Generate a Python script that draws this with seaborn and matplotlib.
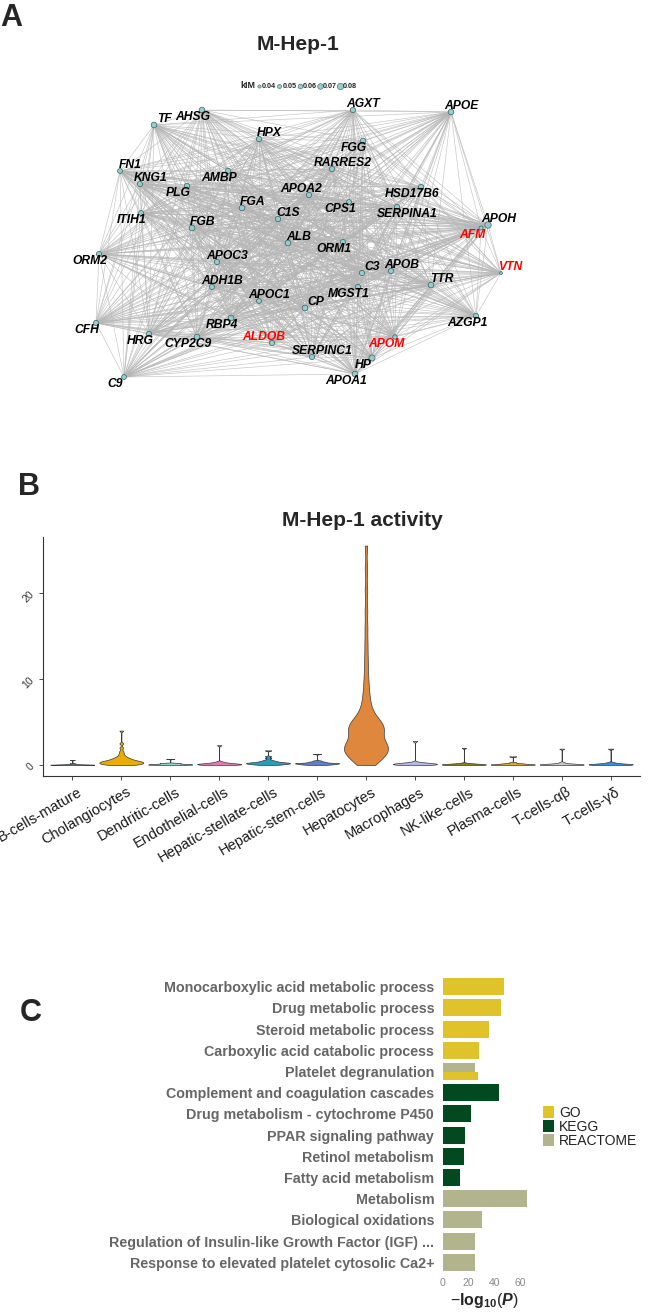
import numpy as np
import pandas as pd
import matplotlib
matplotlib.use("Agg")
import matplotlib.pyplot as plt
import matplotlib.transforms as mtransforms
from matplotlib.collections import LineCollection
from matplotlib.patches import Patch
import seaborn as sns

W, H = 651, 1314

# ---------------- panel A: module network ----------------
genes = ["TF", "AHSG", "AGXT", "APOE", "HPX", "FGG", "RARRES2", "FN1", "KNG1", "AMBP",
         "PLG", "APOA2", "HSD17B6", "ITIH1", "FGA", "FGB", "C1S", "CPS1", "SERPINA1", "APOH",
         "AFM", "ALB", "ORM1", "ORM2", "APOC3", "C3", "APOB", "VTN", "TTR", "ADH1B",
         "MGST1", "APOC1", "CP", "CFH", "RBP4", "AZGP1", "HRG", "CYP2C9", "ALDOB", "APOM",
         "SERPINC1", "HP", "APOA1", "C9"]
# layout coordinates (as exported from the network layout)
node_x = [154, 202, 353, 451, 259, 363, 332, 120, 140, 228,
          187, 309, 421, 141, 242, 192, 278, 349, 397, 488,
          481, 288, 343, 99, 217, 362, 391, 501, 431, 212,
          358, 259, 305, 96, 231, 476, 149, 197, 272, 395,
          312, 372, 355, 124]
node_y = [125, 110, 110, 112, 139, 141, 169, 171, 184, 171,
          186, 195, 187, 213, 208, 228, 219, 202, 207, 225,
          228, 243, 242, 254, 262, 273, 271, 273, 285, 287,
          287, 301, 308, 323, 318, 316, 334, 337, 343, 337,
          357, 358, 374, 377]
kim = [0.07, 0.07, 0.065, 0.07, 0.065, 0.07, 0.065, 0.06, 0.065, 0.065,
       0.065, 0.065, 0.065, 0.06, 0.07, 0.07, 0.065, 0.06, 0.065, 0.08,
       0.05, 0.07, 0.065, 0.065, 0.065, 0.065, 0.065, 0.036, 0.07, 0.065,
       0.065, 0.06, 0.07, 0.065, 0.07, 0.065, 0.065, 0.07, 0.065, 0.055,
       0.065, 0.075, 0.07, 0.06]
label_pos = ["ur", "dl", "ur", "ur", "ur", "dl", "ur", "ur", "ur", "dl",
             "dl", "ul", "dl", "dl", "ur", "ur", "ur", "dl", "dr", "ur",
             "dl", "ur", "dl", "dl", "ur", "ur", "ur", "ur", "ur", "ur",
             "dl", "ur", "ur", "dl", "dl", "dl", "dl", "dl", "ul", "dl",
             "ur", "dl", "dl", "dl"]
red_genes = ["AFM", "VTN", "ALDOB", "APOM"]
kim_breaks = [0.04, 0.05, 0.06, 0.07, 0.08]

# ---------------- panel B: module activity per cell type ----------------
cells = ["B-cells-mature", "Cholangiocytes", "Dendritic-cells", "Endothelial-cells",
         "Hepatic-stellate-cells", "Hepatic-stem-cells", "Hepatocytes", "Macrophages",
         "NK-like-cells", "Plasma-cells", "T-cells-αβ", "T-cells-γδ"]
cell_colors = ["#5f6a6a", "#e5ae00", "#8fd3cf", "#e07bb5", "#2a9cb8", "#5e7cd6",
               "#df873c", "#b3b9f0", "#8b7d14", "#d8a63a", "#c8c8c8", "#3c8cd8"]
act_bcell = [0.0, 0.0, 0.01, 0.01, 0.02, 0.02, 0.03, 0.03, 0.04, 0.04, 0.05, 0.05, 0.06,
             0.07, 0.08, 0.1, 0.12, 0.15, 0.2, 0.6]
act_chol = [0.0, 0.02, 0.05, 0.08, 0.1, 0.12, 0.15, 0.18, 0.2, 0.22, 0.25, 0.28, 0.3, 0.32,
            0.35, 0.38, 0.4, 0.42, 0.45, 0.48, 0.5, 0.55, 0.6, 0.65, 0.7, 0.75, 0.8, 0.9,
            1.0, 1.15, 1.35, 1.6, 2.0, 2.5, 4.0]
act_dc = [0.0, 0.02, 0.03, 0.04, 0.05, 0.06, 0.07, 0.08, 0.1, 0.1, 0.12, 0.13, 0.15, 0.18,
          0.2, 0.22, 0.25, 0.7]
act_endo = [0.0, 0.02, 0.03, 0.05, 0.06, 0.08, 0.1, 0.1, 0.12, 0.14, 0.15, 0.18, 0.2, 0.25,
            0.3, 0.4, 2.3]
act_stell = [0.0, 0.05, 0.08, 0.1, 0.12, 0.15, 0.18, 0.2, 0.2, 0.22, 0.25, 0.28, 0.3, 0.3,
             0.35, 0.4, 0.45, 0.5, 0.6, 0.8, 1.0, 1.7]
act_stem = [0.0, 0.05, 0.08, 0.1, 0.12, 0.15, 0.18, 0.2, 0.2, 0.22, 0.25, 0.3, 0.35, 0.4,
            0.5, 1.3]
act_hep = [0.0, 0.1, 0.3, 0.5, 0.7, 0.9, 1.0, 1.1, 1.3, 1.4, 1.5, 1.6, 1.7, 1.8, 1.9, 2.0,
           2.0, 2.1, 2.2, 2.3, 2.4, 2.5, 2.6, 2.8, 3.0, 3.2, 3.5, 3.7, 3.9, 4.0, 4.1, 4.2,
           4.3, 4.4, 4.5, 4.6, 4.7, 4.8, 5.0, 5.2, 5.4, 5.7, 6.0, 6.4, 6.9, 7.5, 8.2, 9.0,
           10.0, 11.2, 12.6, 14.2, 16.0, 18.0, 20.3, 22.8, 25.5]
act_mac = [0.0, 0.02, 0.04, 0.05, 0.08, 0.1, 0.12, 0.14, 0.15, 0.18, 0.2, 0.25, 0.3, 2.8]
act_nk = [0.0, 0.01, 0.02, 0.03, 0.04, 0.05, 0.06, 0.07, 0.08, 0.1, 0.12, 0.15, 0.2, 2.0]
act_plasma = [0.0, 0.02, 0.03, 0.04, 0.05, 0.07, 0.08, 0.1, 0.12, 0.15, 0.18, 0.2, 0.3, 1.0]
act_tab = [0.0, 0.01, 0.02, 0.03, 0.04, 0.05, 0.06, 0.08, 0.1, 0.12, 0.15, 0.3, 1.9]
act_tgd = [0.0, 0.02, 0.03, 0.04, 0.05, 0.07, 0.08, 0.1, 0.12, 0.15, 0.2, 0.3, 1.9]
activity = [act_bcell, act_chol, act_dc, act_endo, act_stell, act_stem, act_hep,
            act_mac, act_nk, act_plasma, act_tab, act_tgd]

# ---------------- panel C: enrichment ----------------
terms = ["Monocarboxylic acid metabolic process", "Drug metabolic process",
         "Steroid metabolic process", "Carboxylic acid catabolic process",
         "Platelet degranulation", "Platelet degranulation",
         "Complement and coagulation cascades", "Drug metabolism - cytochrome P450",
         "PPAR signaling pathway", "Retinol metabolism", "Fatty acid metabolism",
         "Metabolism", "Biological oxidations",
         "Regulation of Insulin-like Growth Factor (IGF) ...",
         "Response to elevated platelet cytosolic Ca2+"]
term_db = ["GO", "GO", "GO", "GO", "REACTOME", "GO", "KEGG", "KEGG", "KEGG", "KEGG", "KEGG",
           "REACTOME", "REACTOME", "REACTOME", "REACTOME"]
neglogp = [47.7, 45.6, 36.0, 28.1, 25.4, 27.3, 43.6, 21.8, 17.2, 16.4, 13.6,
           65.5, 30.6, 25.4, 24.8]
db_colors = {"GO": "#e0c32b", "KEGG": "#02491f", "REACTOME": "#b1b48c"}

sns.set_theme(style="white")
plt.rcParams["font.family"] = ["Liberation Sans", "DejaVu Sans"]
plt.rcParams["mathtext.fontset"] = "custom"
plt.rcParams["mathtext.rm"] = "Liberation Sans"
plt.rcParams["mathtext.bf"] = "Liberation Sans:bold"
plt.rcParams["mathtext.it"] = "Liberation Sans:italic"
plt.rcParams["mathtext.bfit"] = "Liberation Sans:bold:italic"

fig = plt.figure(figsize=(W / 100, H / 100), dpi=100)
fig.patch.set_facecolor("white")


def rect(l, t, r, b):
    return [l / W, 1 - b / H, (r - l) / W, (b - t) / H]


def ftxt(x, y, s, **kw):
    fig.text(x / W, 1 - y / H, s, **kw)


# panel letters / titles
ftxt(0, 18, "A", fontsize=22, fontweight="bold", va="center", ha="left")
ftxt(18, 487, "B", fontsize=22, fontweight="bold", va="center", ha="left")
ftxt(20, 1013, "C", fontsize=22, fontweight="bold", va="center", ha="left")
ftxt(298, 45, "M-Hep-1", fontsize=15, fontweight="bold", va="center", ha="center")
ftxt(362, 520, "M-Hep-1 activity", fontsize=15, fontweight="bold", va="center", ha="center")

# ---- A ----
axa = fig.add_axes(rect(0, 0, W, 450))
axa.set_xlim(0, W)
axa.set_ylim(450, 0)
axa.axis("off")

pts = np.column_stack([node_x, node_y])
segs = [[pts[i], pts[j]] for i in range(len(pts)) for j in range(i + 1, len(pts))]
axa.add_collection(LineCollection(segs, colors="#b5b5b5", linewidths=0.45, alpha=0.8, zorder=1))
sizes = [(k * 58) ** 2 for k in kim]
axa.scatter(node_x, node_y, s=sizes, c="#8fcfd1", edgecolors="#3f5e60", linewidths=0.5, zorder=3)

offs = {"ur": (7.5, 4.5), "dl": (-6.5, -5), "ul": (-6, 4.5), "dr": (7.5, -5)}
for g, x, y, p in zip(genes, node_x, node_y, label_pos):
    dx, dy = offs[p]
    axa.annotate(g, (x, y), xytext=(dx, dy), textcoords="offset points",
                 ha="center", va="center", fontsize=8.7, fontweight="bold", fontstyle="italic",
                 color="#ff0000" if g in red_genes else "black", zorder=4)

# kIM size legend
axa.text(255, 86, "kIM", fontsize=6.5, fontweight="bold", ha="right", va="center")
for i, k in enumerate(kim_breaks):
    lx = 259 + i * 20.3
    axa.scatter([lx], [86], s=(k * 58) ** 2, c="#8fcfd1", edgecolors="#3f5e60", linewidths=0.4)
    axa.text(lx + 3, 86, f"{k:.2f}", fontsize=5.2, fontweight="bold", ha="left", va="center")

# ---- B ----
axb = fig.add_axes(rect(43, 537, 640, 776))
dfv = pd.DataFrame({"cell": np.repeat(cells, [len(a) for a in activity]),
                    "score": np.concatenate(activity)})
sns.violinplot(data=dfv, x="cell", y="score", hue="cell", order=cells, hue_order=cells,
               palette=cell_colors, legend=False, density_norm="width", cut=0, inner=None,
               linewidth=0.5, linecolor="#3a3a3a", width=0.9, bw_method=0.15,
               saturation=1, ax=axb)
axb.set_xlim(-0.6, 11.6)
axb.set_ylim(-1.28, 26.5)
axb.set_yticks([0, 10, 20])
axb.set_xlabel("")
axb.set_ylabel("")
for s in ["top", "right"]:
    axb.spines[s].set_visible(False)
for s in ["left", "bottom"]:
    axb.spines[s].set_color("#333333")
    axb.spines[s].set_linewidth(0.8)
axb.tick_params(axis="both", direction="out", length=3, width=0.6, color="#333333",
                left=True, bottom=True)
axb.tick_params(axis="y", labelsize=7.5, labelcolor="#333333", labelrotation=45, pad=2)
axb.set_xticks(range(len(cells)))
axb.set_xticklabels(cells, rotation=30, ha="right", rotation_mode="anchor",
                    fontsize=10.5, color="#1a1a1a")
shift = mtransforms.ScaledTranslation(5 / 100, 0, fig.dpi_scale_trans)
for lab in axb.get_xticklabels():
    lab.set_transform(lab.get_transform() + shift)

# ---- C ----
axc = fig.add_axes(rect(438.4, 974, 531.3, 1275))
rows = list(pd.unique(pd.Series(terms)))
row_n = {t: terms.count(t) for t in rows}
seen = {}
bar_h = 0.8
for t, d, v in zip(terms, term_db, neglogp):
    k = seen.get(t, 0)
    seen[t] = k + 1
    n = row_n[t]
    h = bar_h / n
    yc = rows.index(t) + (k - (n - 1) / 2) * h
    axc.barh(yc, v, height=h, color=db_colors[d], edgecolor="none")
vmax = max(neglogp)
axc.set_xlim(-0.05 * vmax, 1.05 * vmax)
axc.set_ylim(len(rows) - 0.4, -0.6)
axc.set_yticks(range(len(rows)))
axc.set_yticklabels(rows, fontsize=10.3, fontweight="bold", color="#666666")
axc.set_xticks([0, 20, 40, 60])
axc.tick_params(axis="x", length=0, labelsize=7.5, labelcolor="#8a8a8a", pad=2)
axc.tick_params(axis="y", length=0, pad=3)
for s in axc.spines.values():
    s.set_visible(False)
axc.set_xlabel(r"$-\mathbf{log_{10}}(\mathbfit{P})$", fontsize=11.5, labelpad=2)
handles = [Patch(facecolor=db_colors[k], edgecolor="none", label=k) for k in db_colors]
fig.legend(handles=handles, loc="upper left", bbox_to_anchor=(543 / W, 1 - 1106 / H),
           frameon=False, fontsize=10, handlelength=0.8, handleheight=1.0,
           labelspacing=0.0, handletextpad=0.35, borderpad=0, borderaxespad=0,
           labelcolor="#222222")

fig.savefig("out.png", dpi=100, facecolor="white")
